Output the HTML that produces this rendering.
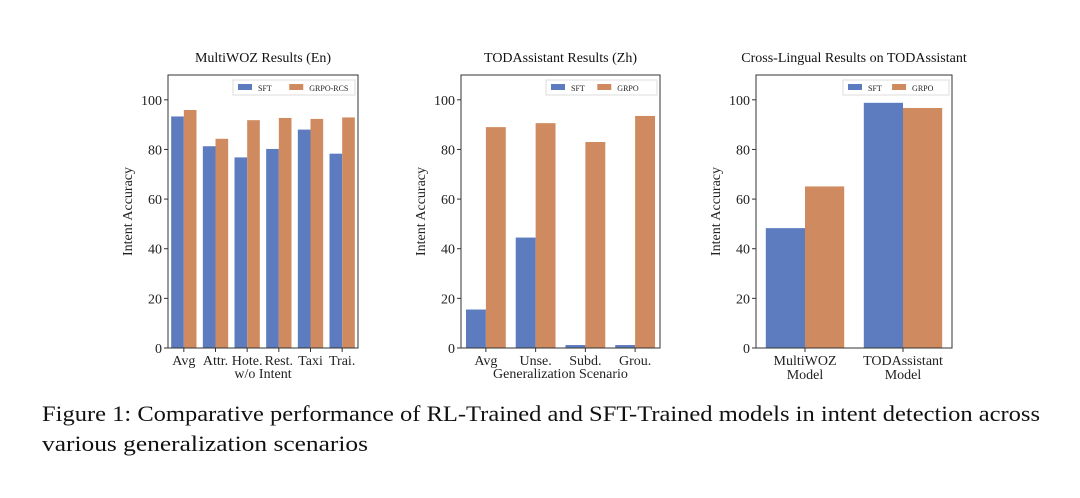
<!DOCTYPE html>
<html><head><meta charset="utf-8">
<style>
html,body{margin:0;padding:0;background:#fff;}
svg{display:block;font-family:"Liberation Serif",serif;}
</style></head>
<body>
<svg id="fig" width="1080" height="498" viewBox="0 0 1080 498" xmlns="http://www.w3.org/2000/svg">
<text x="42" y="421" font-size="22" textLength="998" lengthAdjust="spacingAndGlyphs" fill="#111">Figure 1: Comparative performance of RL-Trained and SFT-Trained models in intent detection across</text>
<text x="42" y="451" font-size="22" textLength="326" lengthAdjust="spacingAndGlyphs" fill="#111">various generalization scenarios</text>
</svg>
<script>
const c1Categories = ["Avg","Attr.","Hote.","Rest.","Taxi","Trai."];
const c1Sft = [93.3, 81.3, 76.8, 80.2, 88.0, 78.3];
const c1Grpo = [95.9, 84.3, 91.8, 92.7, 92.3, 92.9];
const c2Categories = ["Avg","Unse.","Subd.","Grou."];
const c2Sft = [15.5, 44.5, 1.2, 1.2];
const c2Grpo = [89.0, 90.6, 83.0, 93.5];
const c3Categories = [["MultiWOZ","Model"],["TODAssistant","Model"]];
const c3Sft = [48.3, 98.8];
const c3Grpo = [65.1, 96.7];
const yTicks = [0, 20, 40, 60, 80, 100];

const NS = "http://www.w3.org/2000/svg";
const svg = document.getElementById('fig');
const BLUE = "#5d7cbf", ORANGE = "#cf8b5f";
function mk(tag, attrs, parent){const e=document.createElementNS(NS,tag);for(const k in attrs)e.setAttribute(k,attrs[k]);(parent||svg).appendChild(e);return e;}

function chart(id, left, right, cats, sft, grpo, title, xlabel, leg2, legX){
  const top=75, bottom=348, yMax=110;
  const g = mk('g',{});
  
  
  const yS = v => bottom - v/yMax*(bottom-top);
  const n = cats.length, gw = (right-left)/n;
  const xS = i => left + gw*(i+0.5);
  const bw = gw*0.4;
  const t = mk('text',{x:(left+right)/2,y:62,'font-size':14,'text-anchor':'middle',fill:'#111'},g);
  t.textContent = title;
  
  
  sft.forEach((v,i)=>{
    const r = mk('rect',{x:xS(i)-bw,y:yS(v),width:bw,height:bottom-yS(v),fill:BLUE},g);
    
    
  });
  grpo.forEach((v,i)=>{
    const r = mk('rect',{x:xS(i),y:yS(v),width:bw,height:bottom-yS(v),fill:ORANGE},g);
    
    
  });
  mk('rect',{x:left,y:top,width:right-left,height:bottom-top,fill:'none',stroke:'#333','stroke-width':1},g);
  yTicks.forEach(v=>{
    const y=yS(v);
    mk('line',{x1:left-4,x2:left,y1:y,y2:y,stroke:'#333'},g);
    const tl = mk('text',{x:left-6,y:y+5,'font-size':14,'text-anchor':'end',fill:'#222'},g);
    tl.textContent = v;
    
    
  });
  cats.forEach((c,i)=>{
    const x=xS(i);
    mk('line',{x1:x,x2:x,y1:bottom,y2:bottom+4,stroke:'#333'},g);
    const lines = Array.isArray(c)?c:[c];
    lines.forEach((s,j)=>{
      const tl = mk('text',{x:x,y:bottom+17+j*14,'font-size':14,'text-anchor':'middle',fill:'#222'},g);
      tl.textContent = s;
      
      
    });
  });
  if(xlabel){
    const xl = mk('text',{x:(left+right)/2,y:bottom+30,'font-size':14,'text-anchor':'middle',fill:'#222'},g);
    xl.textContent = xlabel;
    
    
  }
  const ycx = left-36, ycy=(top+bottom)/2;
  const yl = mk('text',{x:ycx,y:ycy,'font-size':14,'text-anchor':'middle',fill:'#222',transform:`rotate(-90 ${ycx} ${ycy})`},g);
  yl.textContent = 'Intent Accuracy';
  
  
  const lg = mk('g',{},g);
  
  
  mk('rect',{x:legX,y:80,width:right-legX-3,height:15,fill:'#fff',stroke:'#ddd'},lg);
  mk('rect',{x:legX+5,y:84,width:14,height:6,fill:BLUE},lg);
  const l1 = mk('text',{x:legX+25,y:91,'font-size':8,fill:'#222'},lg);
  l1.textContent='SFT';
  
  
  const ox = legX + (right-legX)*0.45;
  mk('rect',{x:ox,y:84,width:14,height:6,fill:ORANGE},lg);
  const l2 = mk('text',{x:ox+20,y:91,'font-size':8,fill:'#222'},lg);
  l2.textContent=leg2;
  
  
}
chart('multiwoz-chart',168,358,c1Categories,c1Sft,c1Grpo,'MultiWOZ Results (En)','w/o Intent','GRPO-RCS',233);
chart('todassistant-chart',461,660,c2Categories,c2Sft,c2Grpo,'TODAssistant Results (Zh)','Generalization Scenario','GRPO',546);
chart('crosslingual-chart',756,952,c3Categories,c3Sft,c3Grpo,'Cross-Lingual Results on TODAssistant','','GRPO',843);
</script>
</body></html>
